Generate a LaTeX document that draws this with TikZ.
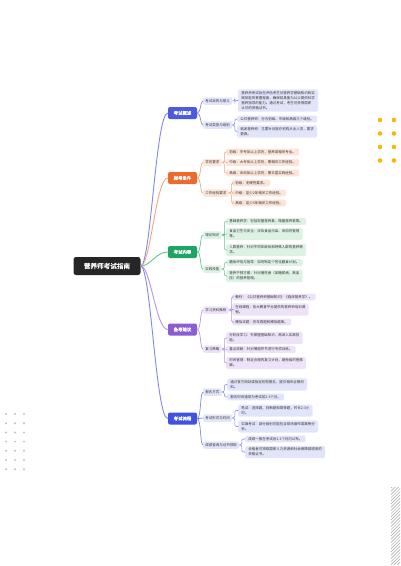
\documentclass[tikz,border=0pt]{standalone}
\usepackage{fontspec}
\newfontfamily\cjk{Noto Sans CJK SC}
\newfontfamily\cjkbold[FakeBold=1.5]{Noto Sans CJK SC}
\definecolor{rootc}{HTML}{262626}
\definecolor{inkc}{HTML}{333333}
\definecolor{blueA}{HTML}{4B5AE0}
\definecolor{blueAl}{HTML}{8088E8}
\definecolor{blueAf}{HTML}{E2E5FA}
\definecolor{orangeA}{HTML}{EC6A2E}
\definecolor{orangeAl}{HTML}{F2A583}
\definecolor{orangeAf}{HTML}{FCE4D9}
\definecolor{greenA}{HTML}{1FA463}
\definecolor{greenAl}{HTML}{62C48E}
\definecolor{greenAf}{HTML}{DDF2E5}
\definecolor{purpleA}{HTML}{8C5BD6}
\definecolor{purpleAl}{HTML}{B597E6}
\definecolor{purpleAf}{HTML}{ECE3F8}
\definecolor{blueB}{HTML}{4152E0}
\definecolor{dotY}{HTML}{F6B70F}
\definecolor{dotG}{HTML}{C2C2C2}

\begin{document}
\begin{tikzpicture}[x=1pt,y=-1pt,
    rootbox/.style={fill=rootc, text=white, rounded corners=2.5pt, font=\cjkbold\fontsize{6.6}{7}\selectfont, minimum width=67pt, minimum height=18pt},
    topic/.style={fill=#1, text=white, rounded corners=2pt, font=\cjkbold\fontsize{4.4}{5}\selectfont, minimum width=29pt, minimum height=12pt, inner sep=1pt},
    sub/.style={fill=#1, text=inkc, anchor=west, rounded corners=1.5pt, font=\cjk\fontsize{3.5}{4}\selectfont, inner xsep=2.2pt, inner ysep=1pt, minimum height=7.5pt},
    leaf/.style={fill=#1, text=inkc, anchor=west, align=left, rounded corners=1.5pt, font=\cjk\fontsize{3.5}{5.2}\selectfont, inner xsep=3.2pt, inner ysep=1.8pt},
    trunk/.style={draw=#1, line width=0.9pt},
    branch/.style={draw=#1, line width=0.7pt},
    twig/.style={draw=#1, line width=0.55pt, rounded corners=2pt},
    hatch/.style={draw=gray!70, line width=0.5pt}]
    \useasboundingbox (0,0) rectangle (400,566);
    \fill[white] (0,0) rectangle (400,566);

    \foreach \x in {380,394}
        \foreach \y in {120,133.5,147,160.5}
            \fill[dotY] (\x,\y) circle (2.3);
    \foreach \x in {6,15,24}
        \foreach \y in {414,423.2,...,470}
            \fill[dotG] (\x,\y) circle (1.1);
    \begin{scope}
        \clip (391,487) rectangle (400,564);
        \foreach \k in {0,...,26}
            \draw[hatch] (389,490+3.2*\k) -- ++(13,-13);
    \end{scope}

    \node[rootbox] (root) at (107,266) {营养师考试指南};

    \node[topic=blueA] (gaishu) at (182.5,113) {考试概述};
    \node[topic=orangeA] (tiaojian) at (182.5,178) {报考条件};
    \node[topic=greenA] (neirong) at (182.5,252) {考试内容};
    \node[topic=purpleA] (jianyi) at (182.5,329.5) {备考建议};
    \node[topic=blueB] (liucheng) at (182.5,418.5) {考试流程};

    \node[sub=blueAf] (mudi) at (203,101) {考试目的与意义};
    \node[sub=blueAf] (leixing) at (203,125) {考试类型与级别};
    \node[sub=orangeAf] (xueli) at (203,162.5) {学历要求};
    \node[sub=orangeAf] (jingyan) at (203,193) {工作经验要求};
    \node[sub=greenAf] (lilun) at (203,235) {理论知识};
    \node[sub=greenAf] (shijian) at (203,269) {实践技能};
    \node[sub=purpleAf] (ziliao) at (203,310) {学习资料推荐};
    \node[sub=purpleAf] (celve) at (203,349) {复习策略};
    \node[sub=blueAf] (baoming) at (203,392) {报名方式};
    \node[sub=blueAf] (xingshi) at (203,418) {考试形式与时间};
    \node[sub=blueAf] (chengji) at (203,445) {成绩查询与证书领取};

    \node[leaf=blueAf] (mudiA) at (238,100.5) {营养师考试旨在评估考生对营养学基础知识和实\\践技能的掌握程度，确保其具备为公众提供科学\\营养指导的能力。通过考试，考生可获得国家\\认可的资格证书。};
    \node[leaf=blueAf] (leixingA) at (237,119) {公共营养师：分为初级、中级和高级三个级别。};
    \node[leaf=blueAf] (leixingB) at (237,131.5) {临床营养师：主要针对医疗机构从业人员，要求\\更高。};

    \node[leaf=orangeAf] (xueliA) at (226,152) {初级：中专及以上学历，营养或相关专业。};
    \node[leaf=orangeAf] (xueliB) at (226,162.5) {中级：大专及以上学历，需相关工作经验。};
    \node[leaf=orangeAf] (xueliC) at (226,173) {高级：本科及以上学历，需丰富实践经验。};
    \node[leaf=orangeAf] (jingyanA) at (232,183) {初级：无硬性要求。};
    \node[leaf=orangeAf] (jingyanB) at (232,193) {中级：至少2年相关工作经验。};
    \node[leaf=orangeAf] (jingyanC) at (232,203) {高级：至少5年相关工作经验。};

    \node[leaf=greenAf] (lilunA) at (226,221.5) {基础营养学：包括宏量营养素、微量营养素等。};
    \node[leaf=greenAf] (lilunB) at (226,234) {食品卫生与安全：涉及食品污染、添加剂管理\\等。};
    \node[leaf=greenAf] (lilunC) at (226,250) {人群营养：针对不同年龄段和特殊人群的营养需\\求。};
    \node[leaf=greenAf] (shijianA) at (226,262.5) {膳食评估与指导：如何制定个性化膳食计划。};
    \node[leaf=greenAf] (shijianB) at (226,276) {营养干预方案：针对慢性病（如糖尿病、高血\\压）的营养管理。};

    \node[leaf=purpleAf] (ziliaoA) at (232,297) {教材：《公共营养师基础知识》《临床营养学》。};
    \node[leaf=purpleAf] (ziliaoB) at (232,309.5) {在线课程：各大教育平台提供的营养师培训课\\程。};
    \node[leaf=purpleAf] (ziliaoC) at (232,322) {模拟试题：历年真题和模拟题库。};
    \node[leaf=purpleAf] (celveA) at (226,338) {分阶段学习：先掌握基础知识，再深入实践技\\能。};
    \node[leaf=purpleAf] (celveB) at (226,349.5) {重点突破：针对薄弱环节进行专项训练。};
    \node[leaf=purpleAf] (celveC) at (226,363) {时间管理：制定合理的复习计划，避免临时抱佛\\脚。};

    \node[leaf=blueAf] (baomingA) at (227,384.5) {通过官方网站或指定机构报名，提交相关证明材\\料。};
    \node[leaf=blueAf] (baomingB) at (227,397) {报名时间通常为考试前2-3个月。};
    \node[leaf=blueAf] (xingshiA) at (238,410.5) {笔试：选择题、判断题和简答题，时长2-3小\\时。};
    \node[leaf=blueAf] (xingshiB) at (238,426.5) {实操考试：部分级别可能包含现场操作或案例分\\析。};
    \node[leaf=blueAf] (chengjiA) at (245,439) {成绩一般在考试后1-2个月内公布。};
    \node[leaf=blueAf] (chengjiB) at (245,452) {合格者可领取国家人力资源和社会保障部颁发的\\资格证书。};

    \draw[trunk=blueAl] (root.east) .. controls +(10,0) and +(-12,0) .. (gaishu.west);
    \draw[trunk=orangeAl] (root.east) .. controls +(10,0) and +(-12,0) .. (tiaojian.west);
    \draw[trunk=greenAl] (root.east) .. controls +(10,0) and +(-12,0) .. (neirong.west);
    \draw[trunk=purpleAl] (root.east) .. controls +(10,0) and +(-12,0) .. (jianyi.west);
    \draw[trunk=blueAl] (root.east) .. controls +(10,0) and +(-12,0) .. (liucheng.west);

    \foreach \t/\s/\c in {gaishu/mudi/blueAl, gaishu/leixing/blueAl, tiaojian/xueli/orangeAl, tiaojian/jingyan/orangeAl,
        neirong/lilun/greenAl, neirong/shijian/greenAl, jianyi/ziliao/purpleAl, jianyi/celve/purpleAl,
        liucheng/baoming/blueAl, liucheng/xingshi/blueAl, liucheng/chengji/blueAl}
        \draw[branch=\c] (\t.east) .. controls +(4,0) and +(-3,0) .. (\s.west);

    \foreach \s/\l/\c in {mudi/mudiA/blueAl, leixing/leixingA/blueAl, leixing/leixingB/blueAl,
        xueli/xueliA/orangeAl, xueli/xueliB/orangeAl, xueli/xueliC/orangeAl,
        jingyan/jingyanA/orangeAl, jingyan/jingyanB/orangeAl, jingyan/jingyanC/orangeAl,
        lilun/lilunA/greenAl, lilun/lilunB/greenAl, lilun/lilunC/greenAl,
        shijian/shijianA/greenAl, shijian/shijianB/greenAl,
        ziliao/ziliaoA/purpleAl, ziliao/ziliaoB/purpleAl, ziliao/ziliaoC/purpleAl,
        celve/celveA/purpleAl, celve/celveB/purpleAl, celve/celveC/purpleAl,
        baoming/baomingA/blueAl, baoming/baomingB/blueAl,
        xingshi/xingshiA/blueAl, xingshi/xingshiB/blueAl,
        chengji/chengjiA/blueAl, chengji/chengjiB/blueAl}
        \draw[twig=\c] (\s.east) -- ++(2.5,0) |- (\l.west);
\end{tikzpicture}
\end{document}
